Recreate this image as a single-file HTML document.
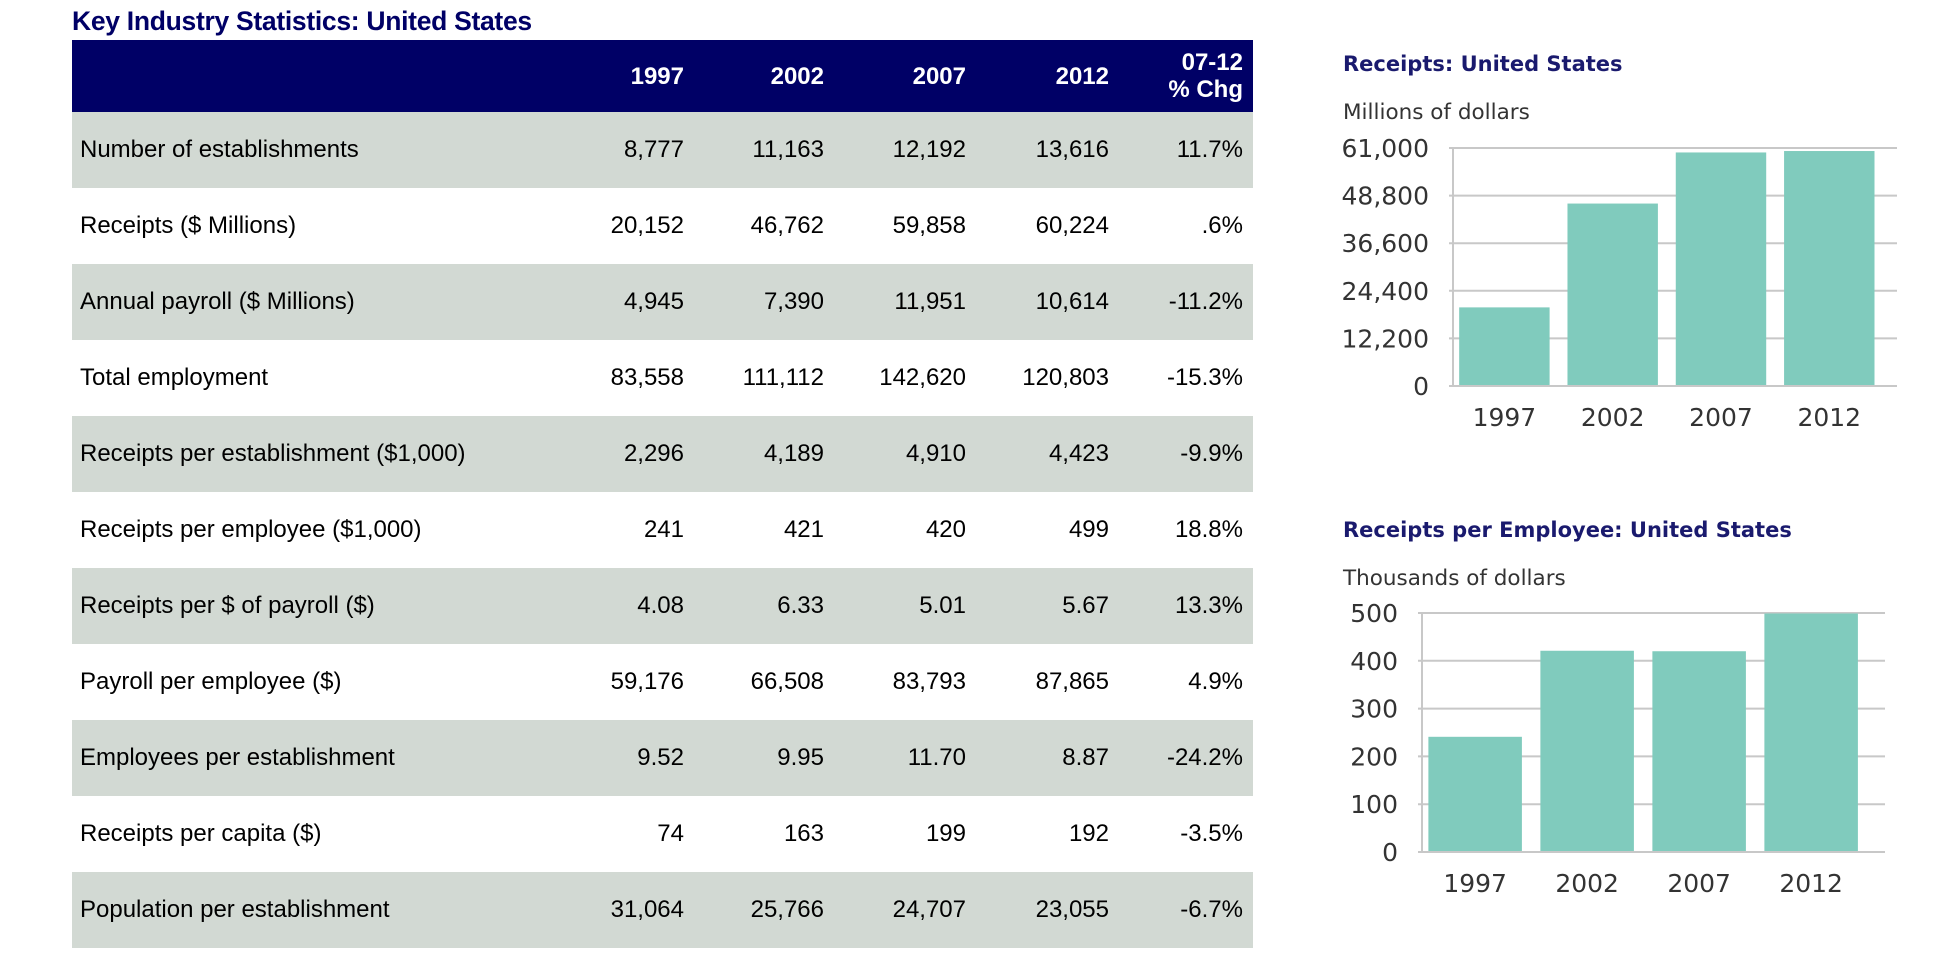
<!DOCTYPE html>
<html><head><meta charset="utf-8">
<style>
body{margin:0;width:1944px;height:972px;background:#fff;position:relative;overflow:hidden;font-family:"Liberation Sans",Arial,sans-serif}
#title{position:absolute;left:72px;top:6px;font-size:26.5px;font-weight:bold;color:#000066;letter-spacing:-0.3px}
table{position:absolute;left:72px;top:40px;width:1181px;border-collapse:collapse;table-layout:fixed;font-size:24px;color:#000}
th{background:#000066;color:#fff;font-weight:bold;text-align:right;height:72px;padding:0 10px 0 0;line-height:27px}
td{height:76px;padding:0 10px 0 0;text-align:right}
td.l{text-align:left;padding-left:8px}
tr.g td{background:#d2d9d3}
svg{position:absolute;left:0;top:0}
</style></head><body>
<div id="title">Key Industry Statistics: United States</div>
<table>
<colgroup><col style="width:479px"><col style="width:143px"><col style="width:140px"><col style="width:142px"><col style="width:143px"><col style="width:134px"></colgroup>
<tr><th></th><th>1997</th><th>2002</th><th>2007</th><th>2012</th><th>07-12<br>% Chg</th></tr>
<tr class="g"><td class="l">Number of establishments</td><td>8,777</td><td>11,163</td><td>12,192</td><td>13,616</td><td>11.7%</td></tr>
<tr><td class="l">Receipts ($ Millions)</td><td>20,152</td><td>46,762</td><td>59,858</td><td>60,224</td><td>.6%</td></tr>
<tr class="g"><td class="l">Annual payroll ($ Millions)</td><td>4,945</td><td>7,390</td><td>11,951</td><td>10,614</td><td>-11.2%</td></tr>
<tr><td class="l">Total employment</td><td>83,558</td><td>111,112</td><td>142,620</td><td>120,803</td><td>-15.3%</td></tr>
<tr class="g"><td class="l">Receipts per establishment ($1,000)</td><td>2,296</td><td>4,189</td><td>4,910</td><td>4,423</td><td>-9.9%</td></tr>
<tr><td class="l">Receipts per employee ($1,000)</td><td>241</td><td>421</td><td>420</td><td>499</td><td>18.8%</td></tr>
<tr class="g"><td class="l">Receipts per $ of payroll ($)</td><td>4.08</td><td>6.33</td><td>5.01</td><td>5.67</td><td>13.3%</td></tr>
<tr><td class="l">Payroll per employee ($)</td><td>59,176</td><td>66,508</td><td>83,793</td><td>87,865</td><td>4.9%</td></tr>
<tr class="g"><td class="l">Employees per establishment</td><td>9.52</td><td>9.95</td><td>11.70</td><td>8.87</td><td>-24.2%</td></tr>
<tr><td class="l">Receipts per capita ($)</td><td>74</td><td>163</td><td>199</td><td>192</td><td>-3.5%</td></tr>
<tr class="g"><td class="l">Population per establishment</td><td>31,064</td><td>25,766</td><td>24,707</td><td>23,055</td><td>-6.7%</td></tr>
</table>
<svg id="charts" width="1944" height="972"></svg>
<script>
const categories=["1997","2002","2007","2012"];
const receiptsValues=[20152,46762,59858,60224];
const receiptsTicks=[0,12200,24400,36600,48800,61000];
const rpeValues=[241,421,420,499];
const rpeTicks=[0,100,200,300,400,500];
const NS="http://www.w3.org/2000/svg";
const svg=document.getElementById('charts');
function mk(t,a,txt){const e=document.createElementNS(NS,t);for(const k in a)e.setAttribute(k,a[k]);if(txt!==undefined)e.textContent=txt;svg.appendChild(e);return e;}
function chart(cfg){
  const F='"DejaVu Sans",Verdana,sans-serif';
  let t=mk('text',{x:cfg.tx,y:cfg.ty,'font-family':F,'font-size':21,'font-weight':'bold',fill:'#1a1a6e'},cfg.title);
  
  t=mk('text',{x:cfg.tx,y:cfg.ty+48,'font-family':F,'font-size':21.5,fill:'#333'},cfg.sub);
  
  const max=cfg.ticks[cfg.ticks.length-1];
  const y=v=>cfg.y0-(v/max)*(cfg.y0-cfg.y1);
  const bw=cfg.band;
  cfg.ticks.forEach(v=>{
    const l=mk('line',{x1:cfg.x0-4,x2:cfg.x1,y1:y(v),y2:y(v),stroke:'#c8c8c8','stroke-width':2});
    
    const tx=mk('text',{x:cfg.x0-24,y:y(v)+9,'text-anchor':'end','font-family':F,'font-size':25,fill:'#333'},v.toLocaleString('en-US'));
    
  });
  const ax=mk('line',{x1:cfg.x0,x2:cfg.x0,y1:cfg.y1,y2:cfg.y0,stroke:'#c8c8c8','stroke-width':2});
  
  cfg.cats.forEach((c,i)=>{
    const bx=cfg.x0+i*bw+bw*0.057;
    const b=mk('rect',{x:bx,y:y(cfg.vals[i]),width:bw*0.835,height:cfg.y0-y(cfg.vals[i]),fill:'#80cbbd'});
    
    const tx=mk('text',{x:bx+bw*0.835/2,y:cfg.y0+40,'text-anchor':'middle','font-family':F,'font-size':25,fill:'#333'},c);
    
  });
  const base=mk('line',{x1:cfg.x0,x2:cfg.x1,y1:cfg.y0,y2:cfg.y0,stroke:'#c8c8c8','stroke-width':2});
  
}
chart({id:'receipts',title:'Receipts: United States',sub:'Millions of dollars',tx:1343,ty:71,x0:1453,x1:1897,band:108.3,y1:148,y0:386,cats:categories,vals:receiptsValues,ticks:receiptsTicks});
chart({id:'receipts-per-employee',title:'Receipts per Employee: United States',sub:'Thousands of dollars',tx:1343,ty:537,x0:1422,x1:1885,band:112,y1:613,y0:852,cats:categories,vals:rpeValues,ticks:rpeTicks});
</script>
</body></html>
